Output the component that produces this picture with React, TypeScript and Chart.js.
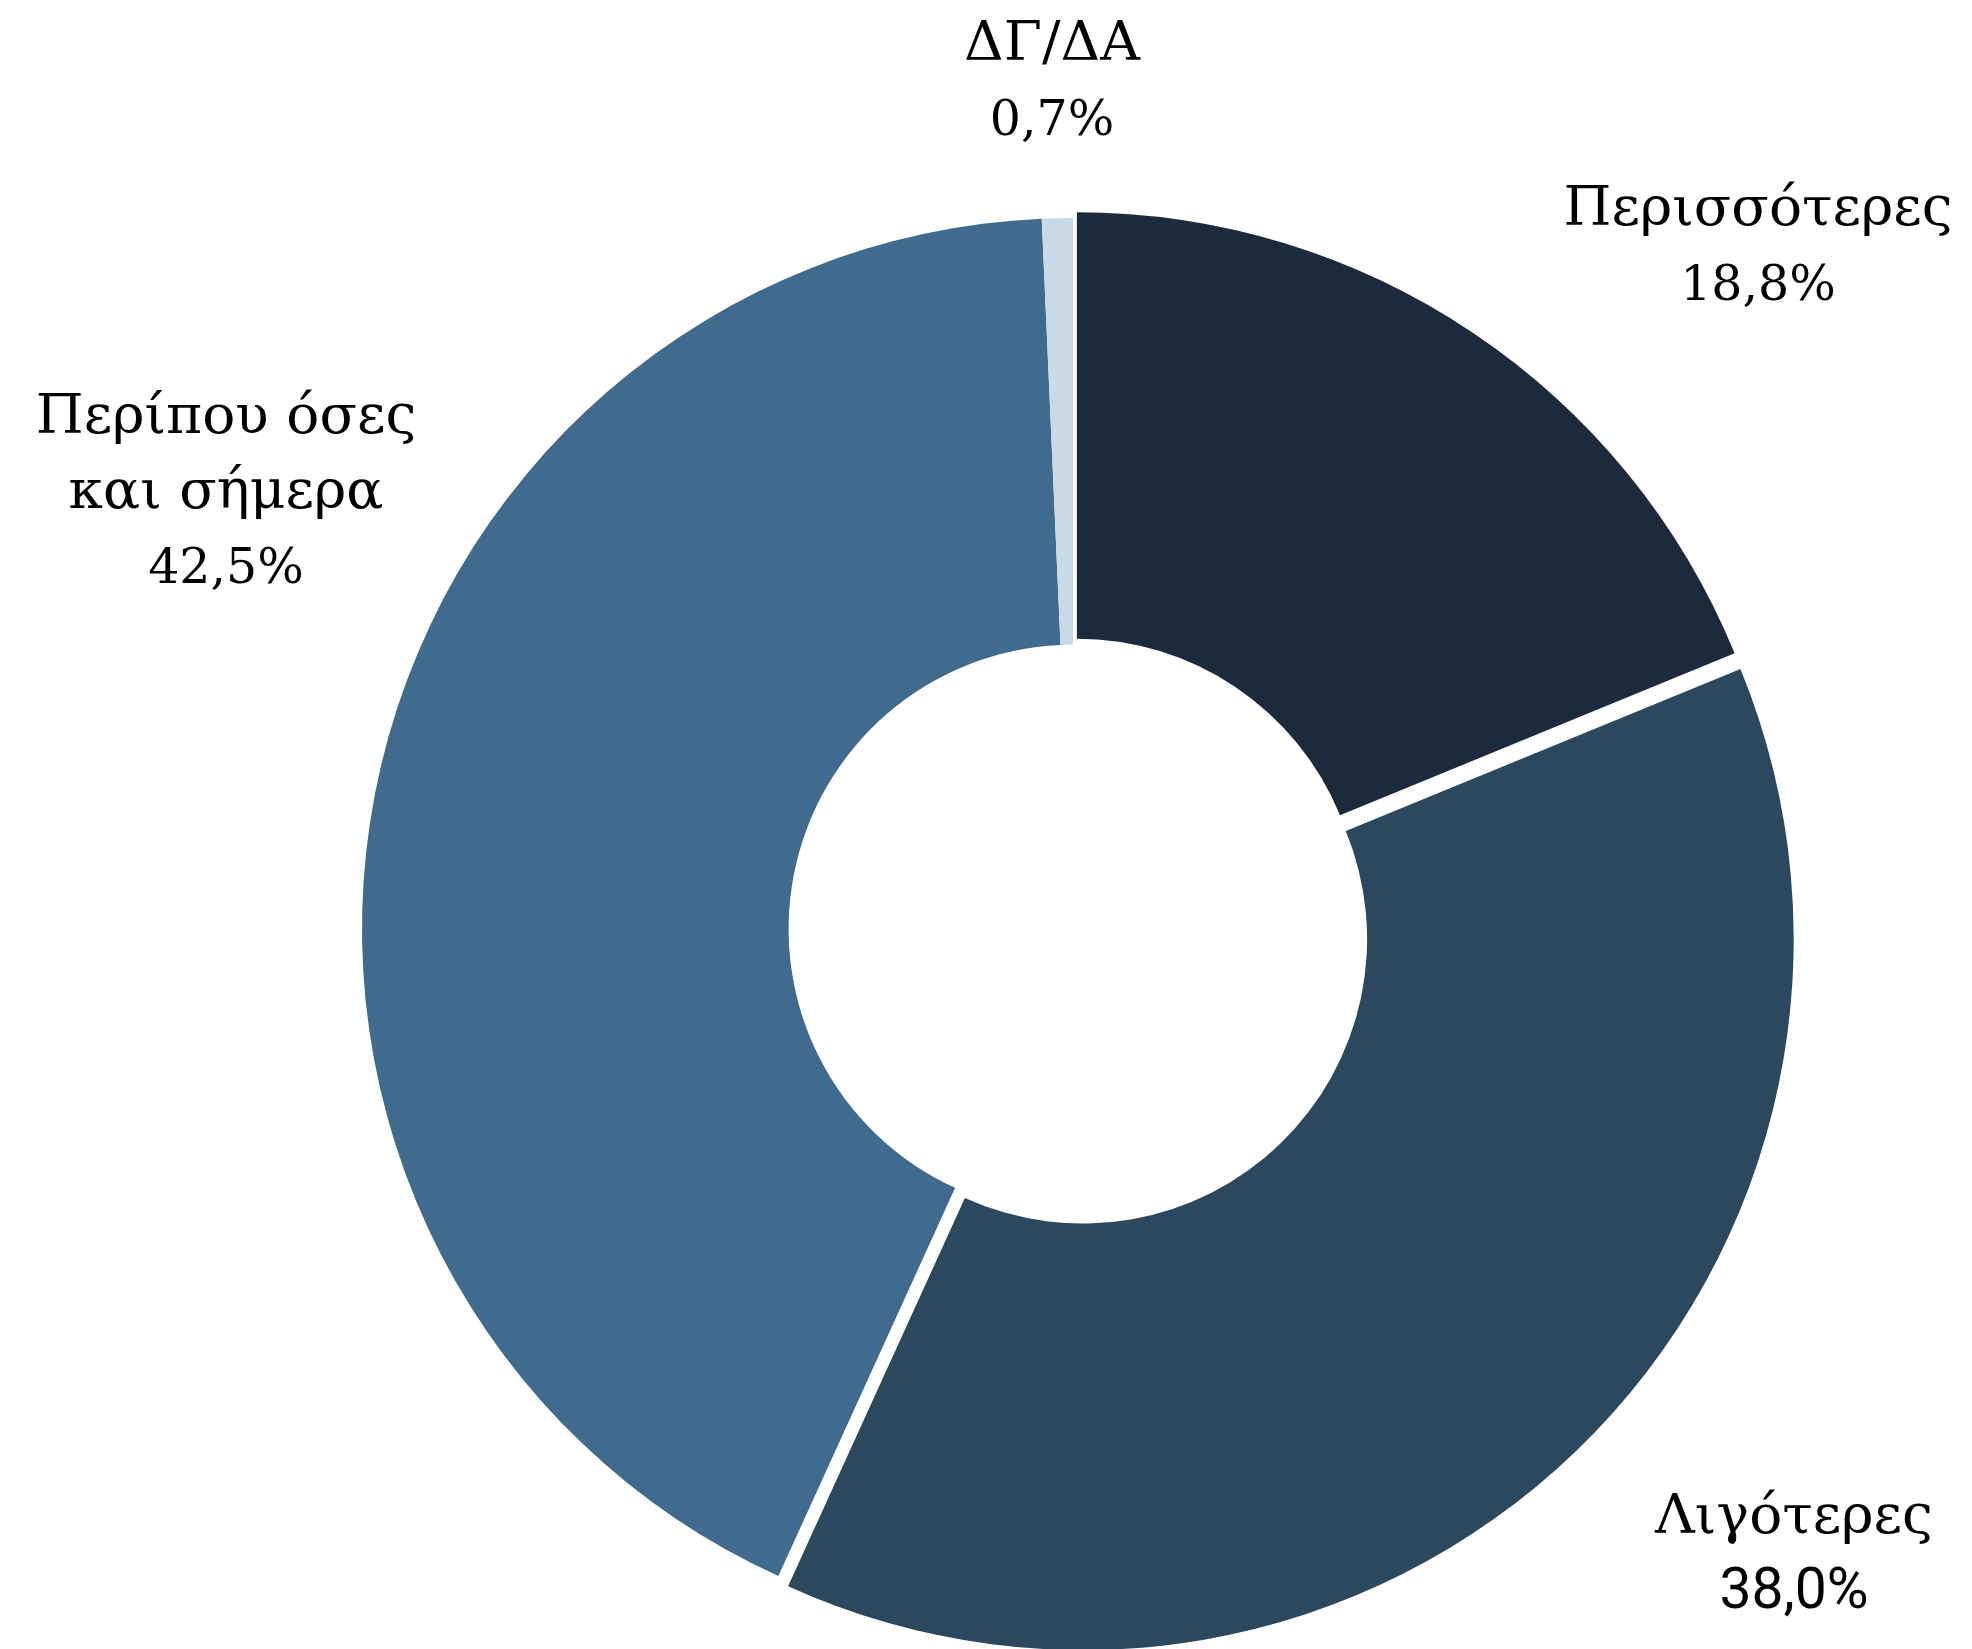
import React, { useEffect, useRef } from "react";
import { Chart, registerables } from "chart.js";

Chart.register(...registerables);

const categories = ["Περισσότερες", "Λιγότερες", "Περίπου όσες και σήμερα", "ΔΓ/ΔΑ"];
const values = [18.8, 38.0, 42.5, 0.7];
const valueLabels = ["18,8%", "38,0%", "42,5%", "0,7%"];
const labelLines = [["Περισσότερες"], ["Λιγότερες"], ["Περίπου όσες", "και σήμερα"], ["ΔΓ/ΔΑ"]];
const colors = ["#1c2b3c", "#2c485e", "#406b8e", "#c9d9e6"];
const explode = [7, 14, 0, 0];
// label anchor (text centre x, first baseline y) relative to the pie centre
const labelAnchors = [
  [685, -704],
  [721, 604],
  [-847, -496],
  [-21, -869],
];
const nameFont = "55px 'DejaVu Serif'";
const valueFonts = [
  "49px 'DejaVu Serif'",
  "57px Roboto",
  "49px 'DejaVu Serif'",
  "49px 'DejaVu Serif'",
];

const W = 1972;
const H = 1649;

const explodePlugin = {
  id: "explode",
  beforeDatasetDraw(chart: any, args: any) {
    const ctx = chart.ctx;
    args.meta.data.forEach((arc: any, i: number) => {
      const p = arc.getProps(["startAngle", "endAngle"], true);
      const mid = (p.startAngle + p.endAngle) / 2;
      const d = explode[i] || 0;
      ctx.save();
      ctx.translate(Math.cos(mid) * d, Math.sin(mid) * d);
      arc.draw(ctx, chart.chartArea);
      ctx.restore();
    });
    return false;
  },
};

const labelPlugin = {
  id: "outerLabels",
  afterDraw(chart: any) {
    const ctx = chart.ctx;
    const arc = chart.getDatasetMeta(0).data[0];
    const cx = arc.x;
    const cy = arc.y;
    const lh = 75;
    ctx.save();
    ctx.fillStyle = "#000000";
    ctx.textAlign = "center";
    ctx.textBaseline = "alphabetic";
    categories.forEach((_, i) => {
      const [dx, dy] = labelAnchors[i];
      const x = cx + dx;
      let y = cy + dy;
      ctx.font = nameFont;
      labelLines[i].forEach((line) => {
        ctx.fillText(line, x, y);
        y += lh;
      });
      ctx.font = valueFonts[i];
      ctx.fillText(valueLabels[i], x, y);
    });
    ctx.restore();
  },
};

export default function App() {
  const ref = useRef<HTMLCanvasElement | null>(null);
  useEffect(() => {
    if (!ref.current) return;
    const chart = new Chart(ref.current, {
      type: "doughnut",
      data: {
        labels: categories,
        datasets: [
          {
            data: values,
            backgroundColor: colors,
            borderWidth: 0,
            hoverOffset: 0,
          },
        ],
      },
      options: {
        responsive: false,
        maintainAspectRatio: false,
        devicePixelRatio: 1,
        animation: false,
        cutout: "40%",
        rotation: 0,
        layout: { padding: { left: 362, top: 218, right: 188, bottom: 9 } },
        plugins: {
          legend: { display: false },
          tooltip: { enabled: false },
        },
        events: [],
      },
      plugins: [explodePlugin, labelPlugin],
    });
    return () => chart.destroy();
  }, []);
  return (
    <div style={{ position: "absolute", left: 0, top: 0, width: W, height: H, background: "#ffffff" }}>
      <canvas ref={ref} width={W} height={H} style={{ display: "block" }} />
    </div>
  );
}
